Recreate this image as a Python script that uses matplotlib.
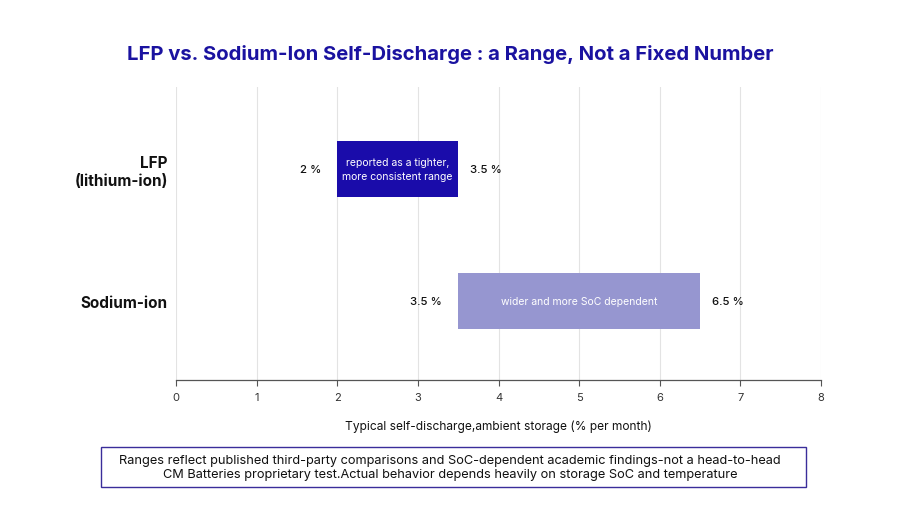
import matplotlib
matplotlib.use("Agg")
import matplotlib.pyplot as plt
from matplotlib.patches import FancyBboxPatch

categories = ["Sodium-ion", "LFP\n(lithium-ion)"]
low = [3.5, 2.0]
high = [6.5, 3.5]
notes = ["wider and more SoC dependent", "reported as a tighter,\nmore consistent range"]
bar_colors = ["#9696d0", "#1a0caa"]
xticks = [0, 1, 2, 3, 4, 5, 6, 7, 8]

title = "LFP vs. Sodium-Ion Self-Discharge : a Range, Not a Fixed Number"
xlabel = "Typical self-discharge,ambient storage (% per month)"
footer = ("Ranges reflect published third-party comparisons and SoC-dependent academic findings-not a head-to-head\n"
          "CM Batteries proprietary test.Actual behavior depends heavily on storage SoC and temperature")

plt.rcParams['font.family'] = ['Inter', 'DejaVu Sans']

fig = plt.figure(figsize=(9, 5.06), dpi=100)
ax = fig.add_axes([176/900, 1-381/506, (821-176)/900, (381-88)/506])

ys = list(range(len(categories)))
for y, lo, hi, c, note in zip(ys, low, high, bar_colors, notes):
    ax.barh(y, hi - lo, left=lo, height=0.42, color=c, zorder=3)
    ax.text((lo + hi) / 2, y, note, ha='center', va='center', color='white',
            fontsize=7.5, zorder=4, linespacing=1.5)
    ax.text(lo - 0.2, y, f"{lo:g} %", ha='right', va='center', fontsize=8.2,
            color='#111111', fontweight='medium')
    ax.text(hi + 0.15, y, f"{hi:g} %", ha='left', va='center', fontsize=8.2,
            color='#111111', fontweight='medium')

ax.set_xlim(0, 8)
ax.set_ylim(-0.6, 1.62)
ax.set_xticks(xticks)
ax.set_xticklabels([str(t) for t in xticks], fontsize=8, color='#333333')
ax.set_yticks(ys)
ax.set_yticklabels(categories, fontsize=11, fontweight='bold', color='#111111')
ax.tick_params(axis='y', length=0, pad=6)
ax.tick_params(axis='x', length=4, color='#555555', pad=5)
ax.grid(axis='x', color='#e3e3e3', linewidth=0.8, zorder=0)
for s in ['top', 'right', 'left']:
    ax.spines[s].set_visible(False)
ax.spines['bottom'].set_color('#555555')
ax.spines['bottom'].set_linewidth(0.9)
ax.set_xlabel(xlabel, fontsize=8.6, color='#111111', labelpad=12)

fig.text(0.5, 1-55/506, title, ha='center', va='center', fontsize=14.6,
         fontweight='bold', color='#1a12a0')

box = FancyBboxPatch((101/900, 1-488/506), (806-101)/900, 40/506,
                     boxstyle='square,pad=0', transform=fig.transFigure,
                     facecolor='white', edgecolor='#3a2d9a', linewidth=1.0)
fig.patches.append(box)
fig.text(0.5, 1-468/506, footer, ha='center', va='center', fontsize=9.2,
         color='#111111', linespacing=1.25)

fig.savefig("out.png", dpi=100)
